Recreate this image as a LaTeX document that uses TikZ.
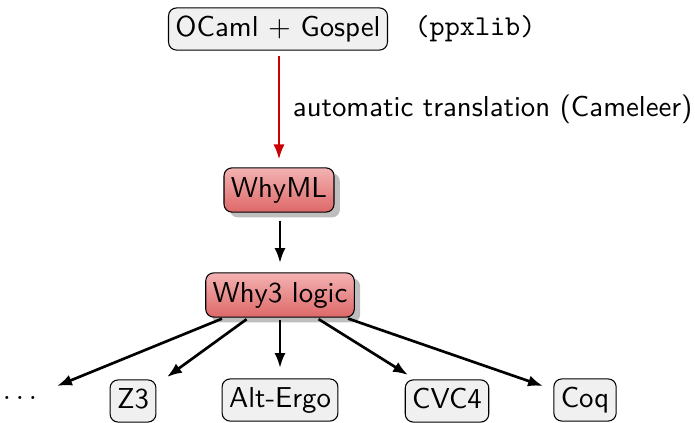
\documentclass[tikz,border=0pt]{standalone}
\usetikzlibrary{arrows.meta,shadows}
\definecolor{boxgray}{RGB}{240,240,240}
\definecolor{redtop}{RGB}{243,178,178}
\definecolor{redbot}{RGB}{222,104,104}
\definecolor{arrred}{RGB}{204,0,0}
\definecolor{shadowgray}{RGB}{190,190,190}
\begin{document}
\begin{tikzpicture}[x=0.375pt,y=-0.375pt,
  font=\sffamily\fontsize{10.8}{13}\selectfont,
  graybox/.style={draw=black,line width=0.4pt,fill=boxgray,rounded corners=3pt,
    inner xsep=2.6pt,inner ysep=2.8pt,text height=7.8pt,text depth=2.4pt},
  redbox/.style={draw=black,line width=0.4pt,rounded corners=3pt,
    top color=redtop,bottom color=redbot,
    drop shadow={shadow xshift=2.2pt,shadow yshift=-2pt,fill=shadowgray,opacity=1},
    inner xsep=2.6pt,inner ysep=3.2pt,text height=7.8pt,text depth=2.4pt},
  blackarrow/.style={line width=1pt,-{Latex[length=5.6pt,width=4.2pt]}},
  redarrow/.style={line width=0.8pt,draw=arrred,-{Latex[length=5.6pt,width=4.2pt]}}]
\useasboundingbox (0,0) rectangle (695,423);
\node[graybox] (ocaml) at (278,29) {OCaml $+$ Gospel};
\node[anchor=center] (ppx) at (475,29) {\ttfamily (ppxlib)};
\node[redbox] (whyml) at (279,190) {WhyML};
\node[redbox] (why3) at (280,295) {Why3 logic};
\node (dots) at (20,398) {$\ldots$};
\node[graybox] (z3) at (133,401) {Z3};
\node[graybox] (alt) at (280,400) {Alt-Ergo};
\node[graybox] (cvc) at (447,401) {CVC4};
\node[graybox] (coq) at (585,400) {Coq};
\coordinate (e1) at (57,386);
\coordinate (e2) at (167,377);
\coordinate (e3) at (280,368);
\coordinate (e4) at (408,375);
\coordinate (e5) at (543,386);
\draw[redarrow,shorten <=2pt,shorten >=3pt] (ocaml.south -| whyml) -- (whyml)
  node[midway,right=1.5pt,text=black] (lbl) {automatic translation (Cameleer)};
\draw[blackarrow,shorten <=3pt,shorten >=3.5pt] (whyml.south -| why3) -- (why3);
\draw[blackarrow,shorten <=1pt] (why3) -- (e1);
\draw[blackarrow,shorten <=1pt] (why3) -- (e2);
\draw[blackarrow,shorten <=1pt] (why3.south) -- (e3);
\draw[blackarrow,shorten <=1pt] (why3) -- (e4);
\draw[blackarrow,shorten <=1pt] (why3) -- (e5);
\end{tikzpicture}
\end{document}
